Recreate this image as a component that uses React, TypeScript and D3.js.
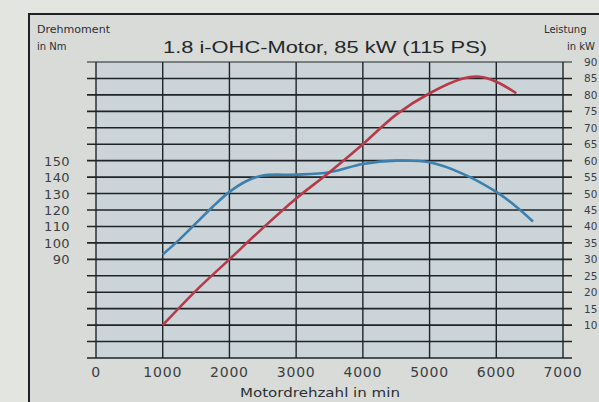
import React from 'react';
import * as d3 from 'd3';

// Drehmoment (Nm) über Drehzahl
const torqueRpm = [1000, 1250, 1500, 1750, 2000, 2250, 2500, 3000, 3500, 4000, 4500, 5000, 5500, 6000, 6300, 6550];
const torqueNm = [93, 102, 112, 122, 131, 137.5, 141, 141.5, 143, 148, 150, 149, 142, 131, 122, 113];

// Leistung (kW) über Drehzahl
const powerRpm = [1000, 1500, 2000, 2500, 3000, 3500, 4000, 4500, 5000, 5500, 5750, 6000, 6300];
const powerKw = [10, 20.5, 30, 39.5, 48.5, 56.5, 65, 74, 80.5, 85, 85.5, 84, 80.5];

const rpmTicks = [0, 1000, 2000, 3000, 4000, 5000, 6000, 7000];
const torqueTicks = [90, 100, 110, 120, 130, 140, 150];
const powerTicks = [10, 15, 20, 25, 30, 35, 40, 45, 50, 55, 60, 65, 70, 75, 80, 85, 90];

const W = 599;
const H = 402;

export default function App() {
  const x = d3.scaleLinear().domain([0, 7000]).range([96, 563]);
  const yT = d3.scaleLinear().domain([30, 210]).range([358, 62]);
  const yP = d3.scaleLinear().domain([0, 90]).range([358, 62]);

  const gridLines = d3.range(30, 211, 10);

  const torqueLine = d3
    .line<number>()
    .x((_, i) => x(torqueRpm[i]))
    .y((d) => yT(d))
    .curve(d3.curveCatmullRom.alpha(0.5));

  const powerLine = d3
    .line<number>()
    .x((_, i) => x(powerRpm[i]))
    .y((d) => yP(d))
    .curve(d3.curveCatmullRom.alpha(0.5));

  const font = '"DejaVu Sans", sans-serif';

  return (
    <div style={{ position: 'fixed', left: 0, top: 0 }}>
      <svg width={W} height={H} style={{ display: 'block' }}>
        <rect x={0} y={0} width={W} height={H} fill="#e3e5e1" />
        {/* Rahmen */}
        <rect x={29} y={14} width={W} height={H} fill="#d8dbd7" stroke="#1e2226" strokeWidth={2} />
        {/* Diagrammfläche */}
        <rect x={x(0)} y={yT(210)} width={x(7000) - x(0)} height={yT(30) - yT(210)} fill="#cbd4d8" />

        {/* horizontale Linien */}
        {gridLines.map((v) => (
          <line
            key={'h' + v}
            x1={x(0) - 9}
            x2={x(7000) + 9}
            y1={yT(v)}
            y2={yT(v)}
            stroke="#1f2428"
            strokeWidth={v === 210 ? 1 : 1.6}
          />
        ))}
        {/* vertikale Linien */}
        {rpmTicks.map((v) => (
          <line
            key={'v' + v}
            x1={x(v)}
            x2={x(v)}
            y1={yT(210)}
            y2={yT(30)}
            stroke="#1f2428"
            strokeWidth={1.4}
          />
        ))}

        {/* Kurven */}
        <path d={torqueLine(torqueNm) || ''} fill="none" stroke="#3d7fae" strokeWidth={2.6} />
        <path d={powerLine(powerKw) || ''} fill="none" stroke="#b83a48" strokeWidth={2.6} />

        {/* linke Achse */}
        {torqueTicks.map((v) => (
          <text
            key={'t' + v}
            x={70}
            y={yT(v) + 5}
            textAnchor="end"
            fontFamily={font}
            fontSize={13}
            letterSpacing={0.4}
            fill="#3a3f44"
          >
            {v}
          </text>
        ))}
        {/* rechte Achse */}
        {powerTicks.map((v) => (
          <text
            key={'p' + v}
            x={584}
            y={yP(v) + 4}
            fontFamily={font}
            fontSize={10.5}
            fill="#3a3f44"
          >
            {v}
          </text>
        ))}
        {/* untere Achse */}
        {rpmTicks.map((v) => (
          <text
            key={'r' + v}
            x={x(v)}
            y={377}
            textAnchor="middle"
            fontFamily={font}
            fontSize={14}
            letterSpacing={0.8}
            fill="#3a3f44"
          >
            {v}
          </text>
        ))}

        {/* Beschriftungen */}
        <text x={37} y={33} fontFamily={font} fontSize={10} fill="#2a2f34" textLength={73} lengthAdjust="spacingAndGlyphs">
          Drehmoment
        </text>
        <text x={37} y={50} fontFamily={font} fontSize={10} fill="#2a2f34">
          in Nm
        </text>
        <text x={544} y={33} fontFamily={font} fontSize={10} fill="#2a2f34">
          Leistung
        </text>
        <text x={567} y={50} fontFamily={font} fontSize={10} fill="#2a2f34">
          in kW
        </text>
        <text
          x={163}
          y={53}
          fontFamily='"Liberation Sans", Arial, sans-serif'
          fontSize={17}
          fill="#23282d"
          textLength={324}
          lengthAdjust="spacingAndGlyphs"
        >
          1.8 i-OHC-Motor, 85 kW (115 PS)
        </text>
        <text
          x={240}
          y={397}
          fontFamily={font}
          fontSize={11.5}
          fill="#2a2f34"
          textLength={160}
          lengthAdjust="spacingAndGlyphs"
        >
          Motordrehzahl in min
        </text>
      </svg>
    </div>
  );
}
